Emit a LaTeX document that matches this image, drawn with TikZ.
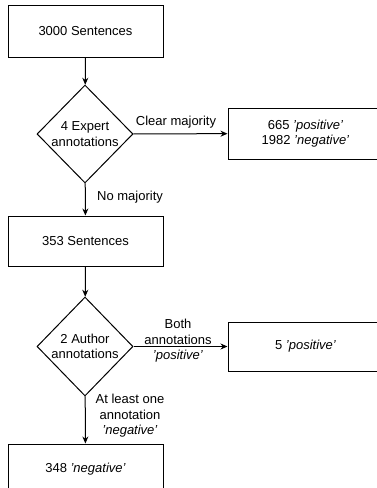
\documentclass[tikz,border=0pt]{standalone}
\usepackage{fontspec}
\setmainfont{Liberation Sans}
\usetikzlibrary{shapes.geometric,arrows.meta}
\begin{document}
\begin{tikzpicture}[x=1pt,y=-1pt,
  every node/.style={font=\fontsize{13}{15.5}\selectfont, text=black},
  procbox/.style={draw=black, line width=1pt, rectangle, minimum width=155pt, inner sep=0pt, align=center},
  decide/.style={draw=black, line width=1pt, diamond, minimum width=96pt, minimum height=98pt, inner sep=0pt, align=center},
  flow/.style={draw=black, line width=1pt, -{Stealth[length=7pt,width=6pt]}},
  elabel/.style={align=center, inner sep=0pt}]
\useasboundingbox (0,0) rectangle (377,488);
\fill[white] (0,0) rectangle (377,488);
\clip (0,0) rectangle (377,488);

\node[procbox, minimum height=52pt] (s3000) at (85.5,31) {3000 Sentences};
\node[decide] (d1) at (85,134) {4 Expert\\annotations};
\node[procbox, minimum height=51pt] (r1) at (305.5,133.5) {665 \textit{'positive'}\\1982 \textit{'negative'}};
\node[procbox, minimum height=50pt] (s353) at (85.5,241) {353 Sentences};
\node[decide, minimum height=99pt] (d2) at (85,346.5) {2 Author\\annotations};
\node[procbox, minimum height=49pt] (r2) at (305.5,346.5) {5 \textit{'positive'}};
\node[procbox, minimum height=50pt] (s348) at (85.5,469) {348 \textit{'negative'}};

\draw[flow] (s3000) -- (d1);
\draw[flow] (d1) -- (r1);
\draw[flow] (d1) -- (s353);
\draw[flow] (s353) -- (d2);
\draw[flow] (d2) -- (r2);
\draw[flow] (d2) -- (s348);

\node[elabel] (lclear) at (176,122) {Clear majority};
\node[elabel, anchor=west] (lno) at (97,197) {No majority};
\node[elabel] (lboth) at (178,341) {Both\\annotations\\\textit{'positive'}};
\node[elabel] (lleast) at (130,416) {At least one\\annotation\\\textit{'negative'}};
\end{tikzpicture}
\end{document}
